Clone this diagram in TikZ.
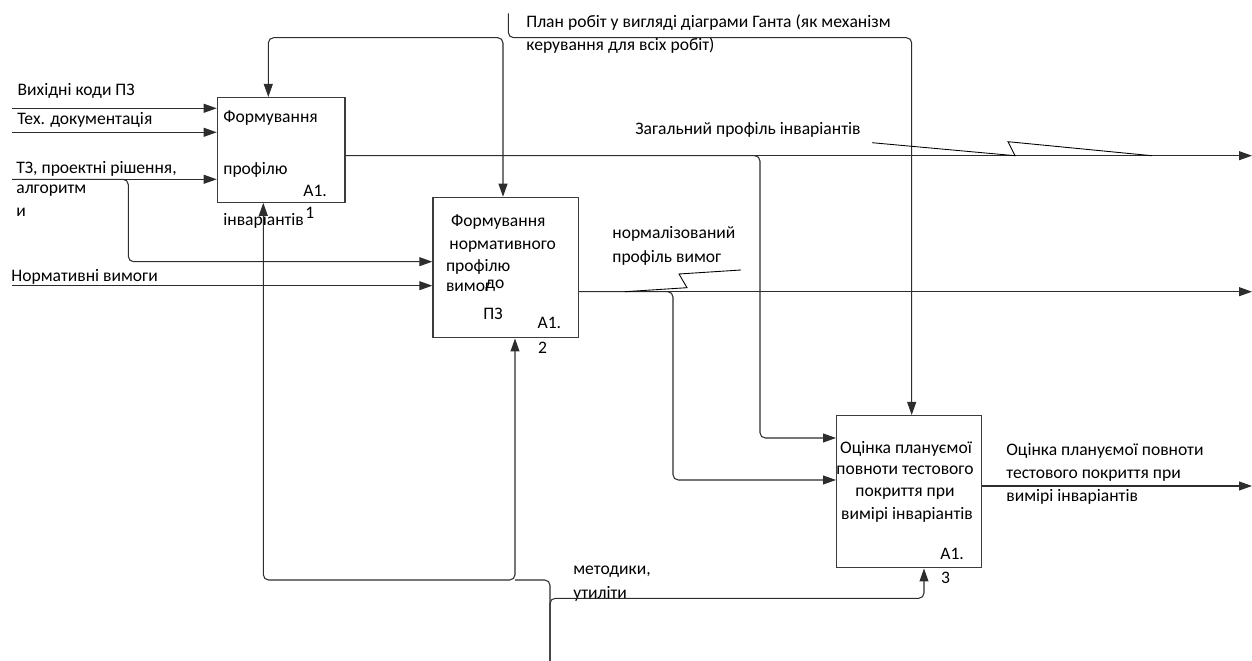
\documentclass[tikz,border=0pt]{standalone}
\usepackage{fontspec}
\setmainfont{Carlito}
\usepackage{xcolor}
\definecolor{wire}{RGB}{45,45,45}
\definecolor{frame}{RGB}{60,60,60}
\usepackage{tikz}
\usetikzlibrary{arrows.meta, positioning, calc}

\begin{document}
\begin{tikzpicture}[x=0.02cm, y=-0.02cm,
        func/.style={rectangle, draw=frame, line width=0.7pt, anchor=north west, inner sep=0},
        txt/.style={font=\fontsize{10}{12.6}\selectfont, inner sep=0, anchor=base west},
        ctxt/.style={font=\fontsize{10}{12.6}\selectfont, inner sep=0, anchor=base},
        wire/.style={draw=wire, line width=0.6pt, rounded corners=3pt},
        flow/.style={wire, -{Triangle[length=7.4pt, width=5.1pt]}},
        flowtwo/.style={wire, {Triangle[length=7.4pt, width=5.1pt]}-{Triangle[length=7.4pt, width=5.1pt]}},
        zig/.style={draw=black, line width=0.5pt}
    ]
        \useasboundingbox (0,0) rectangle (1252,661);

        % function boxes
        \node[func, minimum width=2.552cm, minimum height=2.094cm] (b1) at (216.7,97) {};
        \node[func, minimum width=2.914cm, minimum height=2.812cm] (b2) at (432.3,196.7) {};
        \node[func, minimum width=2.9cm, minimum height=3.046cm] (b3) at (836,415) {};

        % box texts
        \node[txt] (b1t1) at (223,122.7) {Формування};
        \node[txt] (b1t2) at (223,174.3) {профілю};
        \node[txt] (b1t3) at (223,225.3) {інваріантів};
        \node[txt] (b1n) at (303,196.7) {A1.};
        \node[txt] (b1k) at (305,218.3) {1};

        \node[txt] (b2t1) at (450.7,226.7) {Формування};
        \node[txt] (b2t2) at (449,249.3) {нормативного};
        \node[txt] (b2t3) at (445.7,271.7) {профілю};
        \node[txt] (b2t4) at (445.7,291.7) {вимог};
        \node[txt] (b2t5) at (485,288.5) {до};
        \node[txt] (b2t6) at (483,320) {ПЗ};
        \node[txt] (b2n) at (537.3,329) {A1.};
        \node[txt] (b2k) at (537.7,354) {2};

        \node[ctxt] (b3t1) at (906,453.3) {Оцінка плануємої};
        \node[ctxt] (b3t2) at (905,474.3) {повноти тестового};
        \node[ctxt] (b3t3) at (905,496.7) {покриття при};
        \node[ctxt] (b3t4) at (907,519.3) {вимірі інваріантів};
        \node[txt] (b3n) at (940,560) {A1.};
        \node[txt] (b3k) at (940.7,584) {3};

        % arrow labels
        \node[txt] (ctll1) at (526,28) {План робіт у вигляді діаграми Ганта (як механізм};
        \node[txt] (ctll2) at (526,51) {керування для всіх робіт)};
        \node[txt] (in1l) at (17.3,95.7) {Вихідні коди ПЗ};
        \node[txt] (in2l) at (17,125) {Тех. документація};
        \node[txt] (in3l1) at (16,173.3) {ТЗ, проектні рішення,};
        \node[txt] (in3l2) at (16,193.3) {алгоритм};
        \node[txt] (in3l3) at (16,216.7) {и};
        \node[txt] (in4l) at (11,281.7) {Нормативні вимоги};
        \node[txt] (out1l) at (635,135) {Загальний профіль інваріантів};
        \node[txt] (out2l1) at (612,238.3) {нормалізований};
        \node[txt] (out2l2) at (612,262.7) {профіль вимог};
        \node[txt] (out3l1) at (1006,456) {Оцінка плануємої повноти};
        \node[txt] (out3l2) at (1006,479) {тестового покриття при};
        \node[txt] (out3l3) at (1006,501.3) {вимірі інваріантів};
        \node[txt] (mechl1) at (573,574.3) {методики,};
        \node[txt] (mechl2) at (573,598.3) {утиліти};

        % free ends and bends
        \coordinate (i1) at (12,108.3);
        \coordinate (i2) at (12,132.3);
        \coordinate (i3) at (12,179.3);
        \coordinate (i4) at (12,285.7);
        \coordinate (j3) at (128.3,261.7);
        \coordinate (ctl) at (508.3,13.3);
        \coordinate (cl) at (268.3,37.7);
        \coordinate (cd) at (503,37.7);
        \coordinate (cr) at (911.7,37.7);
        \coordinate (o1) at (1252,155.7);
        \coordinate (o2) at (1252,291.7);
        \coordinate (o3) at (1252,486);
        \coordinate (j1) at (760,438);
        \coordinate (j2) at (673,480);
        \coordinate (mech) at (550,661);
        \coordinate (ma) at (263.3,580);
        \coordinate (mb) at (515,580);
        \coordinate (mc) at (924,598.3);

        % inputs
        \draw[flow] (i1) -- (i1 -| b1.west);
        \draw[flow] (i2) -- (i2 -| b1.west);
        \draw[flow] (i3) -- (i3 -| b1.west);
        \draw[flow] (i3) -| (j3) -- (j3 -| b2.west);
        \draw[flow] (i4) -- (i4 -| b2.west);

        % control
        \draw[flow] (ctl) |- (cr) -- (cr |- b3.north);
        \draw[flowtwo] (cl |- b1.north) -- (cl) -- (cd) -- (cd |- b2.north);

        % outputs
        \draw[flow] (b1.east |- o1) -- (o1);
        \draw[flow] (b1.east |- o1) -| (j1) -- (j1 -| b3.west);
        \draw[flow] (b2.east |- o2) -- (o2);
        \draw[flow] (b2.east |- o2) -| (j2) -- (j2 -| b3.west);
        \draw[flow] (b3.east |- o3) -- (o3);

        % mechanism
        \draw[wire] (mech) |- (mb);
        \draw[flowtwo] (ma |- b1.south) -- (ma) -- (mb) -- (mb |- b2.south);
        \draw[flow] (mech) |- (mc) -- (mc |- b3.south);

        % label squiggles
        \draw[zig] (872,142.7) -- (1015,155.7) -- (1008,141.7) -- (1151.7,155.7);
        \draw[zig] (625,291.7) -- (687,287.7) -- (679,274) -- (741,270);
    \end{tikzpicture}
\end{document}
